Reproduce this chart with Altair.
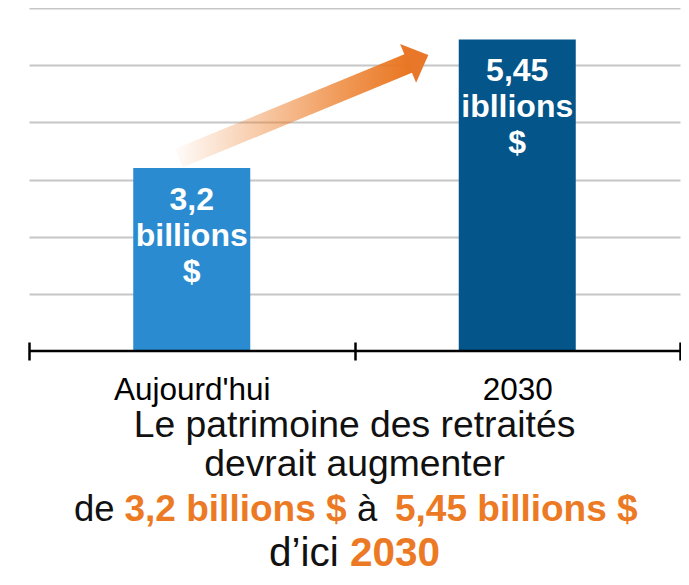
import altair as alt

# ---- data ----
categories = ["Aujourd'hui", "2030"]
values = [3.2, 5.45]
bar_lines = [["3,2", "billions", "$"], ["5,45", "ibllions", "$"]]
bar_colors = ["#2a8bd0", "#03558a"]
grid_values = [1, 2, 3, 4, 5, 6]
# arrow (annotation) in data units: x on a 0..2 band-index scale, y on value scale
arrow_x = [0.461, 1.1705]
arrow_y = [3.376, 5.043]
head_x = [1.1957]
head_y = [5.103]

W, H = 651, 343
FONT = "Liberation Sans"
ORANGE = "#ec7a24"

bar_records = [{"cat": c, "value": v, "lines": l} for c, v, l in zip(categories, values, bar_lines)]
arrow_records = [{"x": x, "y": y, "o": i} for i, (x, y) in enumerate(zip(arrow_x, arrow_y))]
head_records = [{"x": x, "y": y} for x, y in zip(head_x, head_y)]

y_axis = alt.Axis(values=grid_values, grid=True, gridColor="#c6c6c6", gridWidth=2,
                  domain=False, ticks=False, labels=False, title=None)
y_scale = alt.Scale(domain=[0, 6], nice=False, zero=True)

x_enc = alt.X("cat:N", sort=categories,
              scale=alt.Scale(domain=categories, paddingInner=0, paddingOuter=0),
              axis=alt.Axis(title=None, labelAngle=0, domain=False, tickBand="extent",
                            tickSize=18, tickWidth=2.5, tickColor="#000000", offset=-9,
                            labelFont=FONT, labelFontSize=31.5, labelColor="#000000",
                            labelBaseline="alphabetic", labelPadding=39, grid=False))

base = alt.Chart(alt.Data(values=bar_records))
bars = base.mark_bar(size=117).encode(
    x=x_enc,
    y=alt.Y("value:Q", scale=y_scale, axis=y_axis),
    color=alt.Color("cat:N", scale=alt.Scale(domain=categories, range=bar_colors), legend=None),
)
bar_text = base.mark_text(font=FONT, fontSize=32, fontWeight="bold", color="white",
                          baseline="alphabetic", dy=42, lineHeight=36).encode(
    x=x_enc,
    y=alt.Y("value:Q", scale=y_scale, axis=y_axis),
    text=alt.Text("lines:N"),
)
inner = alt.layer(bars, bar_text)

grad = alt.Gradient(
    gradient="linear",
    stops=[
        alt.GradientStop(color="rgba(236,122,36,0.04)", offset=0),
        alt.GradientStop(color="rgba(236,122,36,0.4)", offset=0.35),
        alt.GradientStop(color="rgba(236,122,36,0.76)", offset=0.7),
        alt.GradientStop(color="rgba(232,118,34,1)", offset=1),
    ],
    x1=0, x2=1, y1=0, y2=0,
)
ax_x = alt.X("x:Q", scale=alt.Scale(domain=[0, 2], nice=False, zero=False), axis=None)
shaft = alt.Chart(alt.Data(values=arrow_records)).mark_line(
    stroke=grad, strokeWidth=20, strokeCap="butt").encode(
    x=ax_x, y=alt.Y("y:Q", scale=y_scale, axis=y_axis), order="o:Q")
head = alt.Chart(alt.Data(values=head_records)).mark_point(
    shape="M-0.52,-1L0.52,0L-0.52,1Z", filled=True, fill="#e8772a", opacity=1,
    size=1764, angle=337.6, strokeWidth=0).encode(
    x=ax_x, y=alt.Y("y:Q", scale=y_scale, axis=y_axis))

one = alt.Data(values=[{}])
axis_line = alt.Chart(one).mark_rule(color="#000000", strokeWidth=2.5).encode(
    x=alt.value(0), x2=alt.value(W), y=alt.value(H))


def txt(s, x, y, size, bold=False, color="#111111", align="left"):
    return alt.Chart(one).mark_text(
        text=s, x=x, y=y, fontSize=size, font=FONT,
        fontWeight="bold" if bold else "normal", color=color,
        align=align, baseline="alphabetic")


texts = [
    txt("Le patrimoine des retraités", W / 2, 429, 37.3, align="center"),
    txt("devrait augmenter", W / 2, 468, 37.3, align="center"),
    txt("de", 45, 513, 36.5),
    txt("3,2 billions $", 95.5, 513, 37, bold=True, color=ORANGE),
    txt("à", 328, 513, 36.5),
    txt("5,45 billions $", 366, 513, 37, bold=True, color=ORANGE),
    txt("d\u2019ici", 240, 558, 40.5),
    txt("2030", 321, 558, 40.5, bold=True, color=ORANGE),
]

chart = alt.layer(inner, shaft, head, axis_line, *texts).resolve_scale(
    x="independent"
).properties(
    width=W, height=H,
    autosize=alt.AutoSizeParams(type="none"),
    padding={"left": 21, "top": 0, "right": 1, "bottom": 226},
).configure_view(stroke=None)

chart.save("out.html", embed_options={"renderer": "svg", "actions": False})
